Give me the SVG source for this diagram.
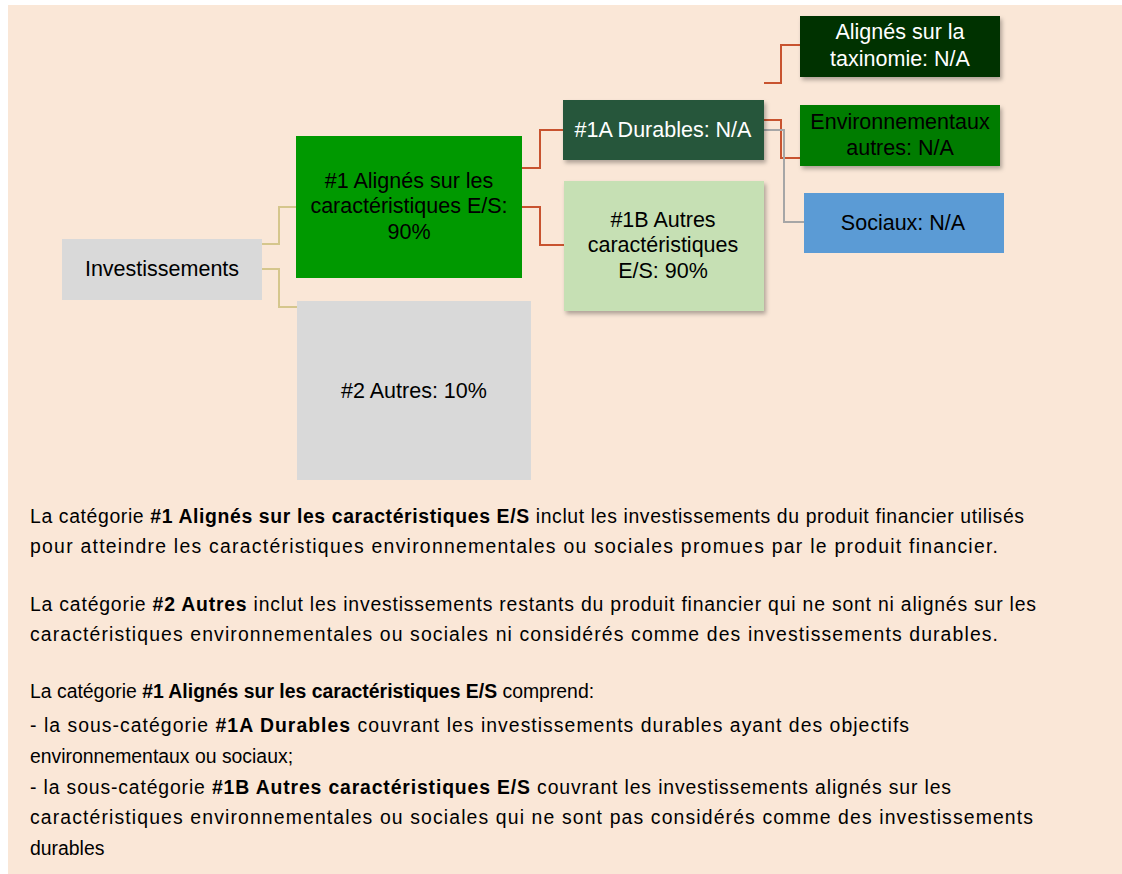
<svg xmlns="http://www.w3.org/2000/svg" width="1122" height="874" viewBox="0 0 1122 874">
<style>
.t{font-family:"Liberation Sans",Arial,sans-serif;font-size:21.5px;text-anchor:middle;fill:#000}
.w{fill:#fff}
.b{font-family:"Liberation Sans",Arial,sans-serif;font-size:19.4px;fill:#000}
.bold{font-weight:bold}
.red{fill:none;stroke:#C8532F;stroke-width:2}
.tan{fill:none;stroke:#D5C68C;stroke-width:2}
.gry{fill:none;stroke:#A6A6A6;stroke-width:2}
</style>
<defs>
<filter id="sh" x="-10%" y="-10%" width="130%" height="140%">
<feDropShadow dx="2" dy="3" stdDeviation="2" flood-color="#000" flood-opacity="0.3"/>
</filter>
</defs>
<rect x="0" y="0" width="1122" height="874" fill="#fff"/>
<rect x="8" y="5" width="1114" height="869" fill="#FAE7D7"/>
<g id="connectors">
<path class="tan" d="M262,244 H279 V207 H296"/>
<path class="tan" d="M262,269 H279 V307 H297"/>
<path class="red" d="M522,168 H540 V130 H563"/>
<path class="red" d="M522,207 H540 V245 H564"/>
<path class="red" d="M764,83 H781 V45 H800"/>
<path class="red" d="M764,120 H781 V158 H800"/>
<path class="gry" d="M764,130 H784 V222 H804"/>
</g>
<g id="investissements">
<rect x="62" y="239" width="200" height="61" fill="#D9D9D9"/>
<text class="t" x="162" y="276">Investissements</text>
</g>
<g id="n1">
<rect x="296" y="136" width="226" height="142" fill="#009900"/>
<text class="t" x="409" y="188">#1 Alignés sur les</text>
<text class="t" x="409" y="213">caractéristiques E/S:</text>
<text class="t" x="409" y="239">90%</text>
</g>
<g id="n2">
<rect x="297" y="301" width="234" height="179" fill="#D9D9D9"/>
<text class="t" x="414" y="398">#2 Autres: 10%</text>
</g>
<g id="n1a">
<rect x="563" y="100" width="201" height="60" fill="#26563A" filter="url(#sh)"/>
<text class="t w" x="663" y="137">#1A Durables: N/A</text>
</g>
<g id="n1b">
<rect x="564" y="181" width="200" height="130" fill="#C6E0B4" filter="url(#sh)"/>
<text class="t" x="663" y="227">#1B Autres</text>
<text class="t" x="663" y="252">caractéristiques</text>
<text class="t" x="663" y="278">E/S: 90%</text>
</g>
<g id="taxo">
<rect x="800" y="16" width="200" height="61" fill="#003300" filter="url(#sh)"/>
<text class="t w" x="900" y="39">Alignés sur la</text>
<text class="t w" x="900" y="66">taxinomie: N/A</text>
</g>
<g id="env">
<rect x="800" y="105" width="200" height="61" fill="#007B00" filter="url(#sh)"/>
<text class="t" x="900" y="129">Environnementaux</text>
<text class="t" x="900" y="155">autres: N/A</text>
</g>
<g id="sociaux">
<rect x="804" y="193" width="200" height="60" fill="#5B9BD5"/>
<text class="t" x="903" y="230">Sociaux: N/A</text>
</g>
<g id="notes">
<text class="b" x="30" y="523" textLength="994" lengthAdjust="spacing">La catégorie <tspan class="bold">#1 Alignés sur les caractéristiques E/S</tspan> inclut les investissements du produit financier utilisés</text>
<text class="b" x="30" y="553" textLength="968" lengthAdjust="spacing">pour atteindre les caractéristiques environnementales ou sociales promues par le produit financier.</text>
<text class="b" x="30" y="611" textLength="1006" lengthAdjust="spacing">La catégorie <tspan class="bold">#2 Autres</tspan> inclut les investissements restants du produit financier qui ne sont ni alignés sur les</text>
<text class="b" x="30" y="641" textLength="968" lengthAdjust="spacing">caractéristiques environnementales ou sociales ni considérés comme des investissements durables.</text>
<text class="b" x="30" y="698">La catégorie <tspan class="bold">#1 Alignés sur les caractéristiques E/S</tspan> comprend:</text>
<text class="b" x="30" y="732" textLength="879" lengthAdjust="spacing">- la sous-catégorie <tspan class="bold">#1A Durables</tspan> couvrant les investissements durables ayant des objectifs</text>
<text class="b" x="30" y="763">environnementaux ou sociaux;</text>
<text class="b" x="30" y="794" textLength="921" lengthAdjust="spacing">- la sous-catégorie <tspan class="bold">#1B Autres caractéristiques E/S</tspan> couvrant les investissements alignés sur les</text>
<text class="b" x="30" y="824" textLength="1003" lengthAdjust="spacing">caractéristiques environnementales ou sociales qui ne sont pas considérés comme des investissements</text>
<text class="b" x="30" y="855">durables</text>
</g>
</svg>
